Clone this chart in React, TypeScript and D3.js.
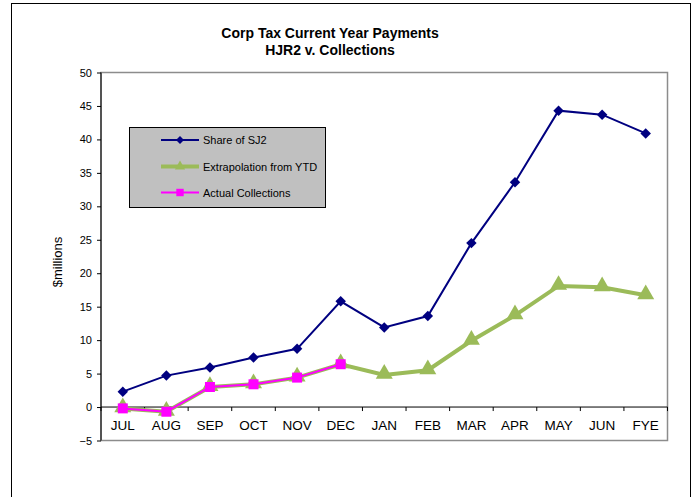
import * as d3 from "d3";
import { useEffect, useRef } from "react";

const months = ["JUL", "AUG", "SEP", "OCT", "NOV", "DEC", "JAN", "FEB", "MAR", "APR", "MAY", "JUN", "FYE"];
const shareOfSJ2 = [2.3, 4.7, 5.9, 7.4, 8.7, 15.8, 11.9, 13.6, 24.5, 33.6, 44.3, 43.7, 40.9];
const extrapolation = [-0.2, -0.7, 3.0, 3.4, 4.4, 6.4, 4.8, 5.5, 9.9, 13.7, 18.1, 17.9, 16.7];
const actual = [-0.2, -0.7, 3.0, 3.4, 4.4, 6.4];
const yTicks = [-5, 0, 5, 10, 15, 20, 25, 30, 35, 40, 45, 50];

const W = 698;
const H = 497;

export default function App() {
  const svgRef = useRef<SVGSVGElement>(null);

  useEffect(() => {
    if (!svgRef.current) return;
    const svg = d3.select(svgRef.current);
    svg.selectAll("*").remove();

    const font = "'Liberation Sans', Arial, sans-serif";
    const plot = { left: 101, right: 667.5, top: 72.5, bottom: 440.5 };

    const x = d3.scaleBand<string>().domain(months).range([plot.left, plot.right]);
    const y = d3.scaleLinear().domain([-5, 50]).range([plot.bottom, plot.top]);
    const cx = (m: string) => (x(m) as number) + x.bandwidth() / 2;

    // outer chart border
    svg
      .append("rect")
      .attr("x", 11.5)
      .attr("y", 3.5)
      .attr("width", 679)
      .attr("height", 520)
      .attr("fill", "white")
      .attr("stroke", "black")
      .attr("stroke-width", 1);

    // plot frame (gray)
    svg
      .append("rect")
      .attr("x", plot.left)
      .attr("y", plot.top)
      .attr("width", plot.right - plot.left)
      .attr("height", plot.bottom - plot.top)
      .attr("fill", "white")
      .attr("stroke", "#8c8c8c")
      .attr("stroke-width", 1.5);

    // title
    const title = svg
      .append("text")
      .attr("text-anchor", "middle")
      .style("font-family", font)
      .style("font-size", "14px")
      .style("font-weight", "bold")
      .attr("fill", "black");
    title.append("tspan").attr("x", 330).attr("y", 38).text("Corp Tax Current Year Payments");
    title.append("tspan").attr("x", 330).attr("y", 55).text("HJR2 v. Collections");

    // y axis
    const yAxis = svg
      .append("g")
      .attr("transform", `translate(${plot.left},0)`)
      .call(d3.axisLeft(y).tickValues(yTicks).tickSize(4).tickPadding(5).tickFormat(d3.format("d")));
    yAxis.select(".domain").attr("stroke", "black").attr("d", `M0,${plot.top}V${plot.bottom}`);
    yAxis.selectAll(".tick line").attr("stroke", "black");
    yAxis.selectAll("text").style("font-family", font).style("font-size", "11px").attr("fill", "black");

    // x axis along zero
    const zeroY = y(0);
    const xg = svg.append("g");
    xg.append("line")
      .attr("x1", plot.left)
      .attr("x2", plot.right)
      .attr("y1", zeroY)
      .attr("y2", zeroY)
      .attr("stroke", "black");
    xg.selectAll("line.tk")
      .data(d3.range(months.length + 1))
      .enter()
      .append("line")
      .attr("class", "tk")
      .attr("x1", (i) => plot.left + i * x.bandwidth())
      .attr("x2", (i) => plot.left + i * x.bandwidth())
      .attr("y1", zeroY)
      .attr("y2", zeroY + 4)
      .attr("stroke", "black");
    xg.selectAll("text")
      .data(months)
      .enter()
      .append("text")
      .attr("x", (d) => cx(d))
      .attr("y", zeroY + 23)
      .attr("text-anchor", "middle")
      .style("font-family", font)
      .style("font-size", "13.5px")
      .attr("fill", "black")
      .text((d) => d);

    // y label
    svg
      .append("text")
      .attr("transform", `translate(62,262) rotate(-90)`)
      .attr("text-anchor", "middle")
      .style("font-family", font)
      .style("font-size", "13px")
      .attr("fill", "black")
      .text("$millions");

    const line = d3
      .line<number>()
      .x((_, i) => cx(months[i]))
      .y((d) => y(d));

    const diamond = d3.symbol().type(d3.symbolDiamond2).size(70);
    const triangle = d3.symbol().type(d3.symbolTriangle).size(125);
    const square = d3.symbol().type(d3.symbolSquare).size(100);

    // Share of SJ2
    svg
      .append("path")
      .attr("d", line(shareOfSJ2))
      .attr("fill", "none")
      .attr("stroke", "#000080")
      .attr("stroke-width", 2);
    svg
      .selectAll(".pt-sj2")
      .data(shareOfSJ2)
      .enter()
      .append("path")
      .attr("class", "pt-sj2")
      .attr("transform", (d, i) => `translate(${cx(months[i])},${y(d)})`)
      .attr("d", diamond())
      .attr("fill", "#000080");

    // Extrapolation
    svg
      .append("path")
      .attr("d", line(extrapolation))
      .attr("fill", "none")
      .attr("stroke", "#9BBB59")
      .attr("stroke-width", 4);
    svg
      .selectAll(".pt-ext")
      .data(extrapolation)
      .enter()
      .append("path")
      .attr("class", "pt-ext")
      .attr("transform", (d, i) => `translate(${cx(months[i])},${y(d) - 1})`)
      .attr("d", triangle())
      .attr("fill", "#9BBB59");

    // Actual collections
    svg
      .append("path")
      .attr("d", line(actual))
      .attr("fill", "none")
      .attr("stroke", "#FF00FF")
      .attr("stroke-width", 2);
    svg
      .selectAll(".pt-act")
      .data(actual)
      .enter()
      .append("path")
      .attr("class", "pt-act")
      .attr("transform", (d, i) => `translate(${cx(months[i])},${y(d)})`)
      .attr("d", square())
      .attr("fill", "#FF00FF");

    // legend
    const legend = svg.append("g");
    legend
      .append("rect")
      .attr("x", 129.5)
      .attr("y", 127.5)
      .attr("width", 196)
      .attr("height", 80)
      .attr("fill", "#C0C0C0")
      .attr("stroke", "black");

    const items = [
      { label: "Share of SJ2", color: "#000080", width: 2, sym: diamond, size: 40 },
      { label: "Extrapolation from YTD", color: "#9BBB59", width: 4, sym: triangle, size: 45 },
      { label: "Actual Collections", color: "#FF00FF", width: 2, sym: square, size: 55 },
    ];
    const rowY = [140, 166.5, 192.5];
    items.forEach((it, i) => {
      const ly = rowY[i];
      legend
        .append("line")
        .attr("x1", 161)
        .attr("x2", 199)
        .attr("y1", ly)
        .attr("y2", ly)
        .attr("stroke", it.color)
        .attr("stroke-width", it.width);
      legend
        .append("path")
        .attr("transform", `translate(180,${ly})`)
        .attr("d", it.sym.size(it.size)())
        .attr("fill", it.color);
      legend
        .append("text")
        .attr("x", 203)
        .attr("y", ly + 4)
        .style("font-family", font)
        .style("font-size", "11px")
        .attr("fill", "black")
        .text(it.label);
    });
  }, []);

  return (
    <svg
      ref={svgRef}
      width={W}
      height={H}
      style={{ position: "absolute", left: 0, top: 0, background: "white" }}
    />
  );
}
